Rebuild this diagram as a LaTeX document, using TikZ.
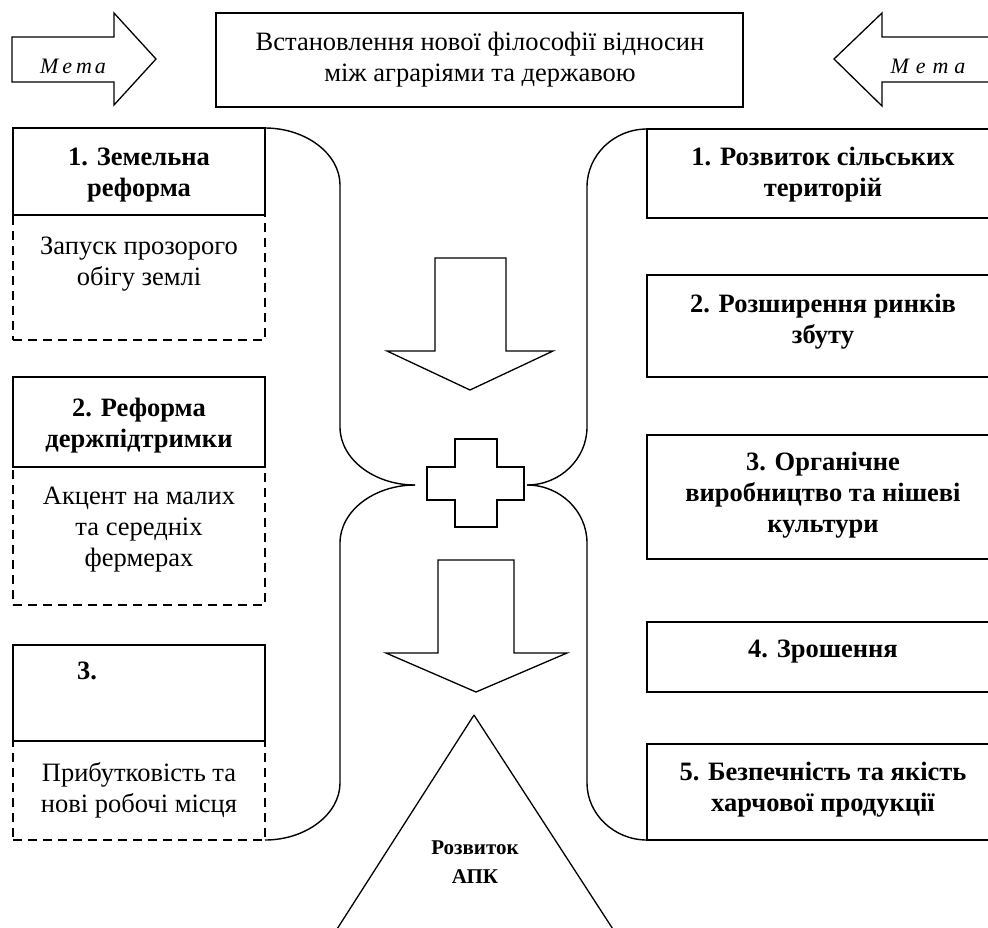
\documentclass[tikz,border=0pt]{standalone}
\usepackage{fontspec}
\setmainfont{Liberation Serif}
\begin{document}
\begin{tikzpicture}[x=1pt,y=-1pt,
  every node/.style={inner sep=0pt, outer sep=0pt},
  solidbox/.style={draw, line width=1.3pt, fill=none},
  dashbox/.style={draw, line width=1.9pt, dash pattern=on 9pt off 6pt},
  shapeline/.style={draw, line width=1.3pt, line join=miter},
  curveline/.style={draw, line width=1.4pt},
  txt/.style={font=\fontsize{26.5}{31}\selectfont, align=center},
  btxt/.style={font=\fontsize{26.5}{31}\selectfont\bfseries, align=center},
  metatxt/.style={font=\fontsize{22}{24}\selectfont\itshape},
  apktxt/.style={font=\fontsize{21}{29}\selectfont\bfseries, align=center}
]
\useasboundingbox (0,0) rectangle (988,927);

% top arrows and title
\draw[shapeline] (12,37) -- (114,37) -- (114,13) -- (156,59) -- (114,105) -- (114,82) -- (12,82) -- cycle;
\node[metatxt] (metaL) at (73,66) {М\hspace{4pt}е\hspace{4pt}т\hspace{3pt}а};
\draw[shapeline] (995,37) -- (882,37) -- (882,13) -- (834,59) -- (882,106) -- (882,82) -- (995,82);
\node[metatxt] (metaR) at (928,66) {М\hspace{7pt}е\hspace{7pt}т\hspace{6pt}а};
\node[solidbox, minimum width=527, minimum height=94] (title) at (479.5,60) {};
\node[txt] (titletxt) at (480,60) {Встановлення нової філософії відносин\\між аграріями та державою};

% left column
\node[solidbox, minimum width=252, minimum height=87, anchor=north west] (L1) at (13,128) {};
\node[btxt] (L1t) at (139,175) {1. Земельна\\реформа};
\node[dashbox, minimum width=252, minimum height=125, anchor=north west] (L1d) at (13,215) {};
\node[txt] (L1dt) at (139,264) {Запуск прозорого\\обігу землі};

\node[solidbox, minimum width=252, minimum height=90, anchor=north west] (L2) at (13,377) {};
\node[btxt] (L2t) at (139,426) {2. Реформа\\держпідтримки};
\node[dashbox, minimum width=252, minimum height=138, anchor=north west] (L2d) at (13,467) {};
\node[txt] (L2dt) at (139,530) {Акцент на малих\\та середніх\\фермерах};

\node[solidbox, minimum width=252, minimum height=96, anchor=north west] (L3) at (13,645) {};
\node[btxt] (L3t) at (87,671) {3.};
\node[dashbox, minimum width=252, minimum height=99, anchor=north west] (L3d) at (13,741) {};
\node[txt] (L3dt) at (139,790) {Прибутковість та\\нові робочі місця};

% right column
\node[solidbox, minimum width=350, minimum height=89, anchor=north west] (R1) at (647,129) {};
\node[btxt] (R1t) at (823,175) {1. Розвиток сільських\\територій};
\node[solidbox, minimum width=350, minimum height=102, anchor=north west] (R2) at (647,275) {};
\node[btxt] (R2t) at (823,322) {2. Розширення ринків\\збуту};
\node[solidbox, minimum width=350, minimum height=124, anchor=north west] (R3) at (647,435) {};
\node[btxt] (R3t) at (823,495) {3. Органічне\\виробництво та нішеві\\культури};
\node[solidbox, minimum width=350, minimum height=70, anchor=north west] (R4) at (647,622) {};
\node[btxt] (R4t) at (823,652) {4. Зрошення};
\node[solidbox, minimum width=350, minimum height=96, anchor=north west] (R5) at (647,744) {};
\node[btxt] (R5t) at (823,790) {5. Безпечність та якість\\харчової продукції};

% centre
\coordinate (cross) at (476,483);
\coordinate (crossL) at (415,485);
\coordinate (crossR) at (527,485);
\draw[shapeline] (455,439) -- (497,439) -- (497,467) -- (524,467) -- (524,500) -- (497,500) -- (497,527) -- (455,527) -- (455,500) -- (427,500) -- (427,467) -- (455,467) -- cycle;

% brackets
\draw[curveline] (L1.north east) .. controls (306,128) and (340,154) .. (340,185) -- (340,427) .. controls (340,459) and (374,485) .. (crossL);
\draw[curveline] (crossL) .. controls (374,485) and (340,511) .. (340,543) -- (340,783) .. controls (340,814) and (306,840) .. (L3d.south east);
\draw[curveline] (R1.north west) .. controls (614,129) and (587,155) .. (587,187) -- (587,427) .. controls (587,459) and (560,485) .. (crossR);
\draw[curveline] (crossR) .. controls (560,485) and (587,511) .. (587,543) -- (587,783) .. controls (587,814) and (614,840) .. (R5.south west);

% down arrows
\draw[shapeline] (435,258) -- (506,258) -- (506,351) -- (553,351) -- (470,390) -- (387,351) -- (435,351) -- cycle;
\draw[shapeline] (438,560) -- (514,560) -- (514,653) -- (567,653) -- (476,692) -- (386,653) -- (438,653) -- cycle;

% triangle
\begin{scope}
\clip (0,0) rectangle (988,927);
\draw[line width=1.3pt] (474,715) -- (330,940) (474,715) -- (620,940);
\end{scope}
\node[apktxt] (apk) at (475,862) {Розвиток\\АПК};
\end{tikzpicture}
\end{document}
